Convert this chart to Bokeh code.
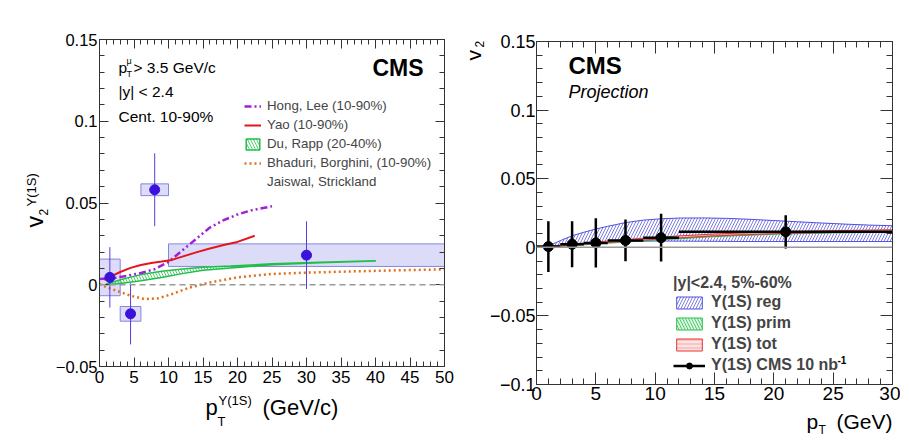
import numpy as np
from math import pi
from bokeh.plotting import figure
from bokeh.models import (Label, Legend, LegendItem, LinearAxis, FixedTicker,
                          CustomJSTickFormatter, Span)
from bokeh.layouts import row, column
from bokeh.embed import file_html
from bokeh.resources import INLINE

FONT = "Liberation Sans"

# ---------------- left panel data (PbPb 1.7 nb-1) ----------------
cms_pt = [1.5, 4.5, 8.0, 30.0]
cms_bin_lo = [0.0, 3.0, 6.0, 10.0]
cms_bin_hi = [3.0, 6.0, 10.0, 50.0]
cms_v2 = [0.0045, -0.0178, 0.0581, 0.0181]
cms_stat = [0.0185, 0.0187, 0.0223, 0.0207]
cms_syst = [0.0112, 0.0045, 0.0036, 0.0069]

hong_pt = [0, 2, 4, 6, 8, 10, 12, 14, 16, 18, 20, 22, 25]
hong_v2 = [0.0035, 0.004, 0.0055, 0.0072, 0.0095, 0.014, 0.021, 0.028, 0.035,
           0.0395, 0.043, 0.0455, 0.048]

yao_pt = [0.7, 1.5, 3, 4.5, 6, 7.5, 9, 10.5, 12, 14, 16, 18, 20, 22.5]
yao_v2 = [0.003, 0.0048, 0.0078, 0.0103, 0.0121, 0.0133, 0.0142, 0.0152, 0.0172,
          0.0198, 0.0222, 0.0243, 0.0262, 0.030]

du_pt = [1.0, 3, 6, 9, 12, 15, 19, 25, 32, 40]
du_hi = [0.0005, 0.003, 0.0062, 0.0082, 0.0097, 0.0107, 0.0115, 0.0128, 0.0138, 0.0147]
du_lo = [0.0, 0.0008, 0.0025, 0.0045, 0.0068, 0.0088, 0.0103, 0.0122, 0.0135, 0.0145]

bha_pt = [0, 1, 2.5, 4.5, 6.5, 8.5, 10.5, 13, 16, 20, 25, 30, 37, 44, 50]
bha_v2 = [0.0005, -0.0015, -0.0037, -0.0067, -0.0088, -0.0083, -0.0057, -0.0018,
          0.0014, 0.0045, 0.0066, 0.0074, 0.0082, 0.0089, 0.0094]

left_xticks = [0, 5, 10, 15, 20, 25, 30, 35, 40, 45, 50]
left_yticks = [-0.05, 0.0, 0.05, 0.1, 0.15]

# ---------------- right panel data (projection 10 nb-1) ----------------
proj_pt = [1.0, 3.0, 5.0, 7.5, 10.5, 21.0]
proj_lo = [0.0, 2.0, 4.0, 6.0, 9.0, 12.0]
proj_hi = [2.0, 4.0, 6.0, 9.0, 12.0, 30.0]
proj_v2 = [0.0005, 0.0022, 0.0032, 0.005, 0.007, 0.0113]
proj_err = [0.0185, 0.0167, 0.018, 0.0152, 0.0174, 0.0121]

reg_pt = [1, 2, 3, 4, 5, 6, 7.5, 9, 10.5, 12, 14, 16, 18, 20, 22, 24, 26, 28, 30]
reg_hi = [0.001, 0.0048, 0.0084, 0.011, 0.0133, 0.0153, 0.018, 0.0198, 0.0208, 0.0213,
          0.0214, 0.0211, 0.0204, 0.0195, 0.0186, 0.0177, 0.0169, 0.0162, 0.0157]
reg_lo = [0.0, 0.0008, 0.0016, 0.0024, 0.0031, 0.0036, 0.0042, 0.0045, 0.0046, 0.0045,
          0.0044, 0.0043, 0.0042, 0.0042, 0.0042, 0.0042, 0.0042, 0.0042, 0.0042]

band_pt = [1, 3, 5, 7.5, 10, 12, 15, 20, 25, 30]
prim_lo = [0.0, 0.0012, 0.0024, 0.0038, 0.0052, 0.0062, 0.0078, 0.0095, 0.0105, 0.011]
prim_hi = [0.0004, 0.0018, 0.0031, 0.0046, 0.006, 0.007, 0.0086, 0.0102, 0.0113, 0.0118]
tot_lo = [0.0002, 0.0016, 0.0029, 0.0044, 0.0058, 0.0068, 0.0083, 0.0099, 0.0108, 0.0112]
tot_hi = [0.0008, 0.0025, 0.0039, 0.0056, 0.0073, 0.0083, 0.0097, 0.0112, 0.0121, 0.0128]

right_xticks = [0, 5, 10, 15, 20, 25, 30]
right_yticks = [-0.1, -0.05, 0.0, 0.05, 0.1, 0.15]

# ---------------- helpers ----------------
FMT = """
if (Math.abs(tick) < 1e-9) return '0';
let s = String(parseFloat(tick.toFixed(4)));
return s.replace('-', '\\u2212');
"""
EMPTY = "return '';"
FRAME = "#333333"


def style_axes(p, xt, xminor, yt, yminor, xsize, ysize, tin, tmin, xstand, ystand):
    xtk = FixedTicker(ticks=xt, minor_ticks=xminor)
    ytk = FixedTicker(ticks=yt, minor_ticks=yminor)
    for ax, tk, st, sz in ((p.xaxis[0], xtk, xstand, xsize),
                           (p.yaxis[0], ytk, ystand, ysize)):
        ax.ticker = tk
        ax.formatter = CustomJSTickFormatter(code=FMT)
        ax.major_label_text_font = FONT
        ax.major_label_text_font_size = f"{sz}px"
        ax.major_label_text_color = "black"
        ax.major_label_standoff = st
        ax.major_tick_in = tin
        ax.major_tick_out = 0
        ax.minor_tick_in = tmin
        ax.minor_tick_out = 0
        ax.axis_line_color = FRAME
        ax.major_tick_line_color = FRAME
        ax.minor_tick_line_color = FRAME
    for place, tk in (("above", xtk), ("right", ytk)):
        ax = LinearAxis(ticker=tk, formatter=CustomJSTickFormatter(code=EMPTY),
                        major_label_text_font_size="1px", major_label_standoff=0,
                        major_tick_in=tin, major_tick_out=0, minor_tick_in=tmin,
                        minor_tick_out=0, axis_line_color=FRAME,
                        major_tick_line_color=FRAME, minor_tick_line_color=FRAME)
        p.add_layout(ax, place)
    p.xgrid.visible = False
    p.ygrid.visible = False
    p.outline_line_color = FRAME


def put(p, fl, fb, px, py, s, size, align="left", style="normal", angle=0.0):
    # px, py: page pixels; fl, fb: page position of the frame's left / bottom edge
    p.add_layout(Label(x=px - fl, y=fb - py, x_units="screen", y_units="screen",
                       text=s, text_font=FONT, text_font_size=f"{size}px",
                       text_align=align, text_baseline="middle",
                       text_font_style=style, angle=angle, text_color="black"))


def strip(w, h):
    f = figure(width=w, height=h, x_range=(0, 1), y_range=(0, 1),
               x_axis_type=None, y_axis_type=None, output_backend="svg",
               toolbar_location=None, min_border=0, min_border_left=0,
               min_border_right=0, min_border_top=0, min_border_bottom=0,
               outline_line_color=None, background_fill_color="white",
               border_fill_color="white")
    f.grid.visible = False
    return f


# ================= left figure =================
p1 = figure(width=410, height=392, x_range=(0, 50), y_range=(-0.05, 0.15),
            output_backend="svg", toolbar_location=None,
            min_border_left=49, min_border_right=16, min_border_top=39,
            min_border_bottom=26, background_fill_color="white",
            border_fill_color="white")
style_axes(p1, left_xticks, list(range(0, 51)), left_yticks,
           [round(v, 2) for v in np.arange(-0.05, 0.151, 0.01)],
           17, 16.5, 9, 5, 4, 2)

v = np.array(cms_v2)
p1.quad(left=cms_bin_lo, right=cms_bin_hi, bottom=v - np.array(cms_syst),
        top=v + np.array(cms_syst), fill_color="#D8D8F8", fill_alpha=0.9,
        line_color="#8585DF", line_width=1)
p1.add_layout(Span(location=0, dimension="width", line_color="#999999",
                   line_dash="6 4", line_width=1.5))

r_du = p1.patch(x=du_pt + du_pt[::-1], y=du_hi + du_lo[::-1], fill_alpha=0,
                hatch_pattern="\\", hatch_color="#2DBE4E", hatch_scale=6,
                hatch_weight=0.8, line_color="#1FBF48", line_width=1.5)
r_bha = p1.line(bha_pt, bha_v2, line_color="#E2711D", line_width=2.5, line_dash="2 3")
r_hong = p1.line(hong_pt, hong_v2, line_color="#A020D8", line_width=2.5,
                 line_dash="7 3 2 3 2 3")
r_yao = p1.line(yao_pt, yao_v2, line_color="#E8141C", line_width=2)
r_dummy = p1.line(x=[], y=[], line_alpha=0)

p1.segment(x0=cms_pt, y0=v - np.array(cms_stat), x1=cms_pt, y1=v + np.array(cms_stat),
           line_color="#5A3BE0", line_width=1)
p1.scatter(cms_pt, cms_v2, size=10, fill_color="#3A12DA", line_color="#3A12DA")

leg1 = Legend(items=[LegendItem(label="Hong, Lee (10-90%)", renderers=[r_hong]),
                     LegendItem(label="Yao (10-90%)", renderers=[r_yao]),
                     LegendItem(label="Du, Rapp (20-40%)", renderers=[r_du]),
                     LegendItem(label="Bhaduri, Borghini, (10-90%)", renderers=[r_bha]),
                     LegendItem(label="Jaiswal, Strickland", renderers=[r_dummy])],
              location=(145, 177), label_text_font=FONT, label_text_font_size="13.3px",
              label_standoff=6, glyph_width=17, glyph_height=14, label_height=14,
              spacing=4, padding=0, margin=0, border_line_alpha=0,
              background_fill_alpha=0)
p1.add_layout(leg1)

F1L, F1B = 99, 366
put(p1, F1L, F1B, 444, 14, "PbPb 1.7 nb\u207b\u00b9 (5.02 TeV)", 20, align="right")
put(p1, F1L, F1B, 372, 67, "CMS", 23, style="bold")
put(p1, F1L, F1B, 118, 67, "p", 15.5)
put(p1, F1L, F1B, 126, 73, "T", 9)
put(p1, F1L, F1B, 126, 60, "\u03bc", 9)
put(p1, F1L, F1B, 133, 67, "> 3.5 GeV/c", 15.5)
put(p1, F1L, F1B, 118, 91, "|y| < 2.4", 15.5)
put(p1, F1L, F1B, 118, 116, "Cent. 10-90%", 15.5)

# y-axis title strip (page x 0..50, y 0..392)
yt1 = strip(50, 392)
put(yt1, 0, 392, 34.6, 227, "v", 23, angle=pi / 2)
put(yt1, 0, 392, 43.0, 215, "2", 12, angle=pi / 2)
put(yt1, 0, 392, 30.8, 206, "\u03a5(1S)", 13, angle=pi / 2)

# x-axis title strip (page x 0..460, y 392..436)
xt1 = strip(460, 44)
put(xt1, 0, 436, 205, 407, "p", 22)
put(xt1, 0, 436, 217, 421, "T", 13)
put(xt1, 0, 436, 218, 400, "\u03a5(1S)", 13)
put(xt1, 0, 436, 262, 407, "(GeV/c)", 22)

# ================= right figure =================
p2 = figure(width=414, height=408, x_range=(0, 30), y_range=(-0.1, 0.15),
            output_backend="svg", toolbar_location=None,
            min_border_left=48, min_border_right=8, min_border_top=41,
            min_border_bottom=24, background_fill_color="white",
            border_fill_color="white")
style_axes(p2, right_xticks, list(range(0, 31)), right_yticks,
           [round(v, 2) for v in np.arange(-0.1, 0.151, 0.01)],
           19, 18, 12, 6, 2, 1)

r_reg = p2.patch(x=reg_pt + reg_pt[::-1], y=reg_hi + reg_lo[::-1], fill_alpha=0,
                 hatch_pattern="/", hatch_color="#5A5ADC", hatch_scale=6,
                 hatch_weight=0.8, line_color="#5050E0", line_width=1)
p2.add_layout(Span(location=0, dimension="width", line_color="#999999", line_width=1.5))
r_prim = p2.patch(x=band_pt + band_pt[::-1], y=prim_hi + prim_lo[::-1],
                  fill_color="#B8F0C4", fill_alpha=0.5, hatch_pattern="\\",
                  hatch_color="#2DBE4E", hatch_scale=6, hatch_weight=0.8,
                  line_color="#2DBE4E", line_width=1)
r_tot = p2.patch(x=band_pt + band_pt[::-1], y=tot_hi + tot_lo[::-1],
                 fill_color="#F8C8C8", fill_alpha=0.5, hatch_pattern="-",
                 hatch_color="#F08080", hatch_scale=4, hatch_weight=0.6,
                 line_color="#E83030", line_width=1)

pv = np.array(proj_v2)
pe = np.array(proj_err)
r_bins = p2.segment(x0=proj_lo, y0=proj_v2, x1=proj_hi, y1=proj_v2,
                    line_color="black", line_width=2.5)
p2.segment(x0=proj_pt, y0=pv - pe, x1=proj_pt, y1=pv + pe, line_color="black",
           line_width=2.5)
r_pts = p2.scatter(proj_pt, proj_v2, size=10, fill_color="black", line_color="black")

leg2 = Legend(items=[LegendItem(label="Y(1S) reg", renderers=[r_reg]),
                     LegendItem(label="Y(1S) prim", renderers=[r_prim]),
                     LegendItem(label="Y(1S) tot", renderers=[r_tot]),
                     LegendItem(label="Y(1S) CMS 10 nb", renderers=[r_bins, r_pts])],
              title="|y|<2.4, 5%-60%", title_text_font=FONT,
              title_text_font_size="16px", title_text_font_style="bold",
              title_standoff=1, location=(137, 10), label_text_font=FONT,
              label_text_font_size="16px", label_text_font_style="bold",
              glyph_width=32, glyph_height=15, label_height=18, spacing=3,
              label_standoff=6, padding=0, margin=0, border_line_alpha=0,
              background_fill_alpha=0)
p2.add_layout(leg2)

F2L, F2B = 534, 384
put(p2, F2L, F2B, 835, 359, "-1", 10, style="bold")
put(p2, F2L, F2B, 892, 30, "PbPb 10 nb\u207b\u00b9 (5.02 TeV)", 18, align="right")
put(p2, F2L, F2B, 566, 65, "CMS", 24, style="bold")
put(p2, F2L, F2B, 566, 91, "Projection", 18, style="italic")

# y-axis title strip (page x 460..486, y 0..408)
yt2 = strip(26, 408)
put(yt2, 460, 408, 473, 60, "v", 21, angle=pi / 2)
put(yt2, 460, 408, 479, 47, "2", 12, angle=pi / 2)

# x-axis title strip (page x 460..900, y 408..436)
xt2 = strip(440, 28)
put(xt2, 460, 436, 806, 421, "p", 21)
put(xt2, 460, 436, 818, 429, "T", 12)
put(xt2, 460, 436, 892, 421, "(GeV)", 21, align="right")

left_block = column(row(column(yt1), column(p1)), column(xt1))
right_block = column(row(column(yt2), column(p2)), column(xt2))
layout = row(left_block, right_block)
open("out.html", "w").write(file_html(layout, INLINE))
